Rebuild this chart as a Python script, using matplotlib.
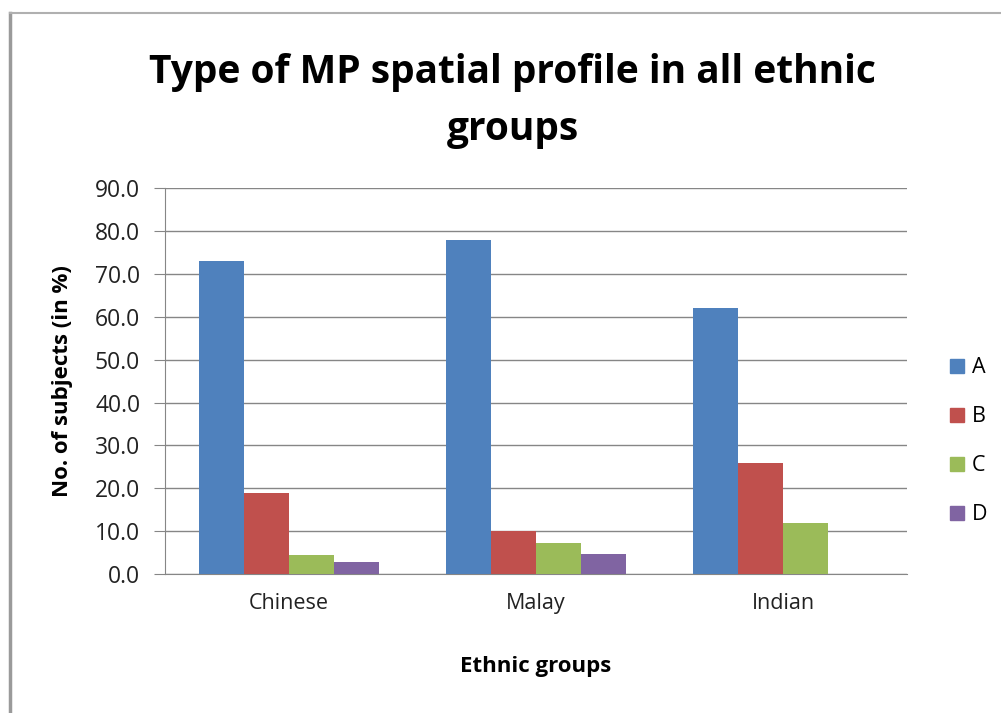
import numpy as np
import matplotlib
matplotlib.use("Agg")
from matplotlib import pyplot as plt
from matplotlib.patches import Patch

plt.rcParams['font.family'] = ['Open Sans', 'DejaVu Sans']

groups = ['Chinese', 'Malay', 'Indian']
series = ['A', 'B', 'C', 'D']
val_a = [73.0, 78.0, 62.0]
val_b = [19.0, 10.0, 26.0]
val_c = [4.4, 7.2, 11.9]
val_d = [2.9, 4.7, 0.0]
colors = ['#4F81BD', '#C0504D', '#9BBB59', '#8064A2']
yticks = [0, 10, 20, 30, 40, 50, 60, 70, 80, 90]

fig = plt.figure(figsize=(10.01, 7.13), dpi=100)
ax = fig.add_axes([0.165, 0.195, 0.741, 0.541])

x = np.arange(len(groups))
w = 1 / 5.5  # excel gap width 150%
for i, vals in enumerate([val_a, val_b, val_c, val_d]):
    ax.bar(x + (i - 1.5) * w, vals, width=w, color=colors[i], label=series[i], zorder=3)

ax.set_xlim(-0.5, 2.5)
ax.set_ylim(0, 90)
ax.set_yticks(yticks)
ax.set_yticklabels(['%.1f' % t for t in yticks])
ax.set_xticks(x)
ax.set_xticklabels(groups)
ax.tick_params(axis='y', length=8, color='#868686', labelsize=16.5, pad=10, labelcolor='#222222')
ax.tick_params(axis='x', length=0, labelsize=15.5, pad=14, labelcolor='#222222')
ax.grid(axis='y', color='#868686', linewidth=1, zorder=0)
for s in ['top', 'right']:
    ax.spines[s].set_visible(False)
ax.spines['left'].set_color('#868686')
ax.spines['bottom'].set_color('#868686')

ax.set_ylabel('No. of subjects (in %)', fontsize=16, fontweight='bold', labelpad=16)
ax.set_xlabel('Ethnic groups', fontsize=16, fontweight='bold', labelpad=30)

fig.text(0.512, 0.858, 'Type of MP spatial profile in all ethnic\ngroups', ha='center', va='center',
         fontsize=28, fontweight='bold', linespacing=1.6)

handles = [Patch(color=c, label=s) for c, s in zip(colors, series)]
fig.legend(handles=handles, loc='center left', bbox_to_anchor=(0.93, 0.381), frameon=False,
           fontsize=15.5, handlelength=0.65, handleheight=0.65, labelspacing=1.3, handletextpad=0.35)

# outer frame (cropped at right and bottom)
fig.add_artist(plt.Line2D([0.010, 0.010], [0, 0.982], color='#9a9a9a', linewidth=2.5))
fig.add_artist(plt.Line2D([0.010, 1.0], [0.982, 0.982], color='#b0b0b0', linewidth=1.5))

fig.savefig('out.png', dpi=100)
